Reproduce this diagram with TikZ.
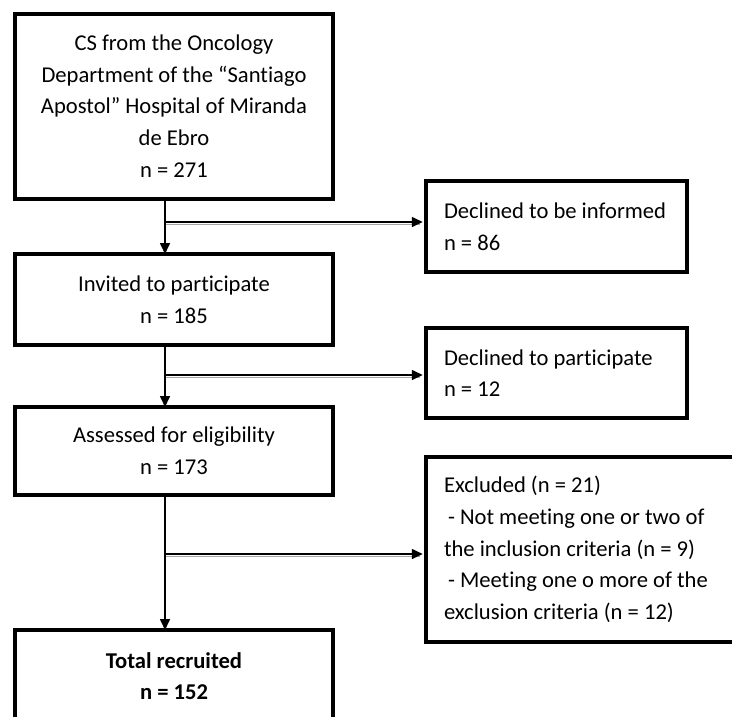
\documentclass[tikz,border=0pt]{standalone}
\usepackage{fontspec}
\setmainfont[Ligatures=NoCommon]{Carlito}
\usetikzlibrary{arrows.meta,calc}
\begin{document}
\begin{tikzpicture}[x=1pt,y=-1pt,
  mainbox/.style={draw=black, line width=4pt, fill=white, align=center,
    minimum width=318pt, inner sep=0pt,
    font=\fontsize{22.6}{31.7}\selectfont},
  sidebox/.style={draw=black, line width=3.5pt, fill=white, align=flush left,
    inner xsep=18pt, inner ysep=0pt,
    font=\fontsize{22.6}{31.7}\selectfont},
  flow/.style={line width=1.6pt, -{Triangle[length=11pt,width=10pt]}},
  shade/.style={line width=1.6pt, color=black!35}]
\useasboundingbox (0,0) rectangle (732,716);
\clip (0,0) rectangle (732,716);

% main column
\node[mainbox, minimum height=185pt] (b1) at (174,106)
  {CS from the Oncology\\Department of the “Santiago\\Apostol” Hospital of Miranda\\de Ebro\\n = 271};
\node[mainbox, minimum height=91pt] (b2) at (174,299.5)
  {Invited to participate\\n = 185};
\node[mainbox, minimum height=88pt] (b3) at (174,451)
  {Assessed for eligibility\\n = 173};
\node[mainbox, minimum height=92pt] (b4) at (174,676)
  {\bfseries Total recruited\\\bfseries n = 152};

% side boxes
\node[sidebox, text width=225pt, minimum height=91pt] (r1) at (556.5,226.5)
  {Declined to be informed\\n = 86};
\node[sidebox, text width=225pt, minimum height=90pt] (r2) at (556.5,373)
  {Declined to participate\\n = 12};
\node[sidebox, text width=278pt, minimum height=185pt] (r3) at (583,549.5)
  {Excluded (n = 21)\\\hspace*{4pt}- Not meeting one or two of\\the inclusion criteria (n = 9)\\\hspace*{4pt}- Meeting one o more of the\\exclusion criteria (n = 12)};

% branch points on the vertical stem
\coordinate (j1) at (165,222);
\coordinate (j2) at (165,375);
\coordinate (j3) at (165,554);

% side arrows with their grey shadow
\draw[shade] ($(j1)+(0,2.5)$) -- ($(j1 -| r1.west)+(-4,2.5)$);
\draw[flow] (j1) -- ($(j1 -| r1.west)+(-1.5,0)$);
\draw[shade] ($(j2)+(0,2.5)$) -- ($(j2 -| r2.west)+(-4,2.5)$);
\draw[flow] (j2) -- ($(j2 -| r2.west)+(-1.5,0)$);
\draw[shade] ($(j3)+(0,2.5)$) -- ($(j3 -| r3.west)+(-4,2.5)$);
\draw[flow] (j3) -- ($(j3 -| r3.west)+(-1.5,0)$);

% main stem arrows
\draw[flow] ([xshift=-9pt]b1.south) -- ([xshift=-9pt,yshift=-2pt]b2.north);
\draw[flow] ([xshift=-9pt]b2.south) -- ([xshift=-9pt,yshift=-2pt]b3.north);
\draw[flow] ([xshift=-9pt]b3.south) -- ([xshift=-9pt,yshift=-2pt]b4.north);
\end{tikzpicture}
\end{document}
